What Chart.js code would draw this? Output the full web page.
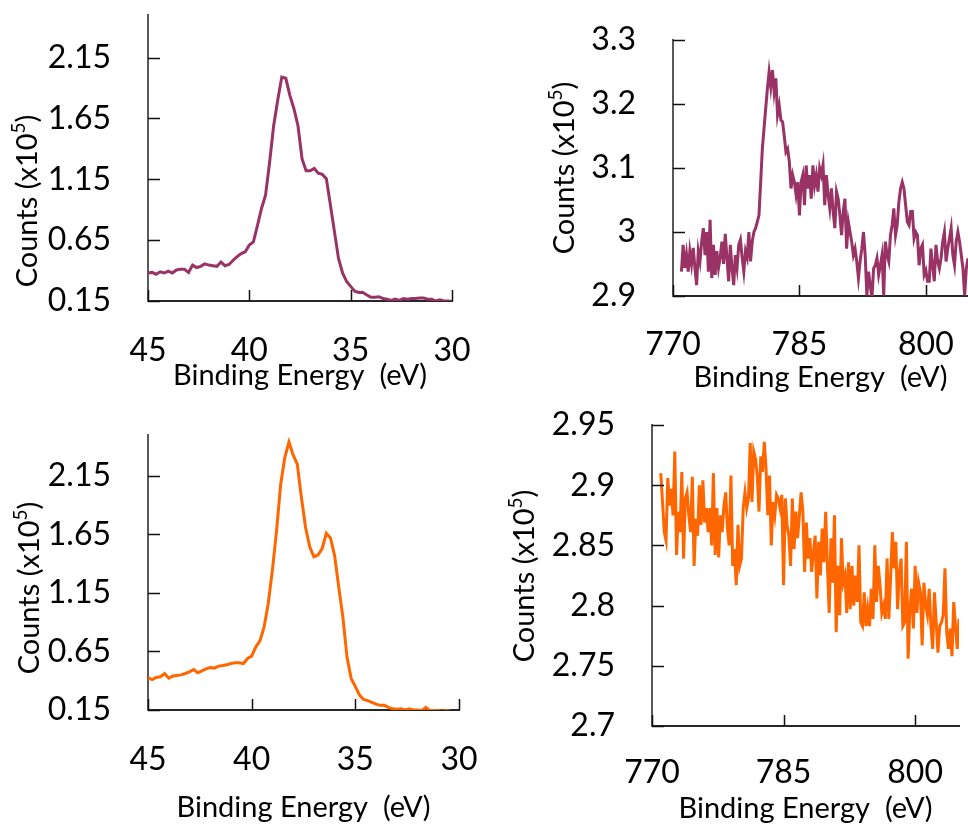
<!DOCTYPE html>
<html>
<head>
<meta charset="utf-8">
<script src="https://cdn.jsdelivr.net/npm/chart.js@4.4.1/dist/chart.umd.min.js"></script>
<style>
  html, body { margin: 0; padding: 0; background: #fff; }
  #page { position: relative; width: 968px; height: 829px; overflow: hidden; }
  canvas { position: absolute; }
</style>
</head>
<body>
<div id="page">
  <canvas id="c1" width="484" height="400" style="left:0;top:0"></canvas>
  <canvas id="c2" width="484" height="400" style="left:484px;top:0"></canvas>
  <canvas id="c3" width="484" height="429" style="left:0;top:400px"></canvas>
  <canvas id="c4" width="484" height="429" style="left:484px;top:400px"></canvas>
</div>
<script>
// binding energies (eV) of the core-level scans
const coreEnergy = [
  45, 44.8, 44.6, 44.4, 44.2, 44, 43.8, 43.6, 43.4, 43.2,
  43, 42.8, 42.6, 42.4, 42.2, 42, 41.8, 41.6, 41.4, 41.2,
  41, 40.8, 40.6, 40.4, 40.2, 40, 39.8, 39.6, 39.4, 39.2,
  39, 38.8, 38.6, 38.4, 38.2, 38, 37.8, 37.6, 37.4, 37.2,
  37, 36.8, 36.6, 36.4, 36.2, 36, 35.8, 35.6, 35.4, 35.2,
  35, 34.8, 34.6, 34.4, 34.2, 34, 33.8, 33.6, 33.4, 33.2,
  33, 32.8, 32.6, 32.4, 32.2, 32, 31.8, 31.6, 31.4, 31.2,
  31, 30.8, 30.6, 30.4, 30.2, 30
];
// counts (x10^5), top-left scan
const coreCountsTop = [
  0.38, 0.385, 0.37, 0.39, 0.38, 0.395, 0.38, 0.405, 0.41, 0.41,
  0.385, 0.445, 0.425, 0.435, 0.455, 0.445, 0.44, 0.435, 0.47, 0.44,
  0.45, 0.485, 0.515, 0.54, 0.555, 0.61, 0.635, 0.77, 0.91, 1.02,
  1.29, 1.59, 1.80, 1.99, 1.98, 1.84, 1.73, 1.59, 1.32, 1.22,
  1.22, 1.24, 1.20, 1.19, 1.155, 0.94, 0.72, 0.50, 0.38, 0.31,
  0.27, 0.23, 0.22, 0.22, 0.20, 0.18, 0.18, 0.185, 0.17, 0.165,
  0.155, 0.165, 0.155, 0.17, 0.165, 0.17, 0.17, 0.175, 0.175, 0.165,
  0.165, 0.15, 0.16, 0.15, 0.15, 0.145
];
// counts (x10^5), bottom-left scan
const coreCountsBottom = [
  0.428, 0.41, 0.428, 0.434, 0.462, 0.422, 0.44, 0.445, 0.45, 0.462,
  0.476, 0.496, 0.468, 0.485, 0.502, 0.513, 0.508, 0.525, 0.53, 0.536,
  0.547, 0.553, 0.553, 0.547, 0.59, 0.61, 0.69, 0.74, 0.86, 1.06,
  1.345, 1.68, 2.08, 2.31, 2.44, 2.33, 2.25, 1.965, 1.71, 1.545,
  1.46, 1.475, 1.53, 1.66, 1.62, 1.47, 1.20, 0.944, 0.60, 0.42,
  0.35, 0.278, 0.24, 0.23, 0.215, 0.20, 0.19, 0.19, 0.173, 0.16,
  0.156, 0.16, 0.15, 0.16, 0.15, 0.15, 0.145, 0.173, 0.145, 0.145,
  0.145, 0.14, 0.145, 0.14, 0.137, 0.135
];

// binding energies (eV) of the 770-805 eV scans
const satEnergy = [
  771, 771.2, 771.4, 771.6, 771.8, 772, 772.2, 772.4, 772.6, 772.8,
  773, 773.2, 773.4, 773.6, 773.8, 774, 774.2, 774.4, 774.6, 774.8,
  775, 775.2, 775.4, 775.6, 775.8, 776, 776.2, 776.4, 776.6, 776.8,
  777, 777.2, 777.4, 777.6, 777.8, 778, 778.2, 778.4, 778.6, 778.8,
  779, 779.2, 779.4, 779.6, 779.8, 780, 780.2, 780.4, 780.6, 780.8,
  781, 781.2, 781.4, 781.6, 781.8, 782, 782.2, 782.4, 782.6, 782.8,
  783, 783.2, 783.4, 783.6, 783.8, 784, 784.2, 784.4, 784.6, 784.8,
  785, 785.2, 785.4, 785.6, 785.8, 786, 786.2, 786.4, 786.6, 786.8,
  787, 787.2, 787.4, 787.6, 787.8, 788, 788.2, 788.4, 788.6, 788.8,
  789, 789.2, 789.4, 789.6, 789.8, 790, 790.2, 790.4, 790.6, 790.8,
  791, 791.2, 791.4, 791.6, 791.8, 792, 792.2, 792.4, 792.6, 792.8,
  793, 793.2, 793.4, 793.6, 793.8, 794, 794.2, 794.4, 794.6, 794.8,
  795, 795.2, 795.4, 795.6, 795.8, 796, 796.2, 796.4, 796.6, 796.8,
  797, 797.2, 797.4, 797.6, 797.8, 798, 798.2, 798.4, 798.6, 798.8,
  799, 799.2, 799.4, 799.6, 799.8, 800, 800.2, 800.4, 800.6, 800.8,
  801, 801.2, 801.4, 801.6, 801.8, 802, 802.2, 802.4, 802.6, 802.8,
  803, 803.2, 803.4, 803.6, 803.8, 804, 804.2, 804.4, 804.6, 804.8,
  805
];
// counts (x10^5), top-right scan
const satCountsTop = [
  2.938, 2.98, 2.944, 2.965, 2.938, 2.97, 2.95, 2.975, 2.944, 2.917,
  2.97, 2.954, 2.985, 3.006, 2.964, 3.0, 2.938, 3.019, 2.928, 2.98,
  2.933, 2.97, 2.944, 2.96, 2.985, 2.95, 2.997, 2.96, 2.923, 2.98,
  2.944, 2.917, 2.964, 2.944, 2.98, 2.988, 2.96, 2.938, 2.97, 2.96,
  3.0, 2.954, 2.985, 3.0, 3.006, 3.016, 3.026, 3.078, 3.13, 3.162,
  3.193, 3.224, 3.25, 3.227, 3.253, 3.219, 3.24, 3.183, 3.198, 3.175,
  3.172, 3.15, 3.125, 3.13, 3.11, 3.068, 3.089, 3.078, 3.058, 3.078,
  3.026, 3.078, 3.089, 3.042, 3.104, 3.068, 3.089, 3.052, 3.104, 3.073,
  3.089, 3.063, 3.10, 3.089, 3.105, 3.042, 3.089, 3.058, 3.037, 3.068,
  3.032, 3.006, 3.063, 3.052, 3.026, 2.995, 3.032, 3.052, 2.974, 3.016,
  3.0, 2.985, 2.964, 2.974, 2.954, 2.928, 2.954, 2.974, 3.0, 2.964,
  2.901, 2.938, 2.917, 2.896, 2.943, 2.948, 2.959, 2.933, 2.948, 2.964,
  2.901, 2.985, 2.964, 2.954, 2.995, 3.011, 3.037, 2.995, 3.011, 3.047,
  3.068, 3.078, 3.068, 3.042, 3.016, 3.011, 3.032, 3.032, 2.99, 3.0,
  2.995, 2.948, 2.974, 2.98, 2.933, 2.94, 2.923, 2.923, 2.974, 2.948,
  2.923, 2.98, 2.954, 2.943, 2.959, 2.985, 3.0, 2.954, 2.974, 2.99,
  3.006, 2.964, 2.948, 2.985, 3.0, 2.985, 2.964, 2.943, 2.901, 2.943,
  2.959
];
// counts (x10^5), bottom-right scan
const satCountsBottom = [
  2.910, 2.886, 2.861, 2.854, 2.906, 2.883, 2.897, 2.875, 2.928, 2.842,
  2.878, 2.861, 2.911, 2.839, 2.889, 2.894, 2.875, 2.861, 2.907, 2.833,
  2.872, 2.858, 2.90, 2.867, 2.904, 2.869, 2.881, 2.861, 2.881, 2.85,
  2.91, 2.842, 2.881, 2.84, 2.875, 2.861, 2.883, 2.894, 2.864, 2.85,
  2.908, 2.833, 2.847, 2.817, 2.867, 2.833, 2.839, 2.881, 2.894, 2.881,
  2.889, 2.935, 2.886, 2.928, 2.922, 2.908, 2.878, 2.924, 2.911, 2.936,
  2.914, 2.875, 2.908, 2.85, 2.886, 2.875, 2.892, 2.889, 2.881, 2.892,
  2.817, 2.889, 2.867, 2.858, 2.833, 2.889, 2.847, 2.878, 2.856, 2.875,
  2.894, 2.878, 2.828, 2.869, 2.839, 2.856, 2.828, 2.844, 2.858, 2.806,
  2.853, 2.825, 2.864, 2.836, 2.878, 2.833, 2.794, 2.856, 2.819, 2.875,
  2.778, 2.833, 2.792, 2.856, 2.819, 2.825, 2.794, 2.836, 2.797, 2.833,
  2.80, 2.825, 2.803, 2.85, 2.786, 2.783, 2.811, 2.783, 2.797, 2.783,
  2.814, 2.789, 2.85, 2.803, 2.833, 2.817, 2.794, 2.80, 2.789, 2.839,
  2.789, 2.822, 2.861, 2.831, 2.853, 2.797, 2.828, 2.839, 2.783, 2.786,
  2.853, 2.756, 2.797, 2.814, 2.781, 2.833, 2.794, 2.819, 2.811, 2.767,
  2.819, 2.80, 2.792, 2.814, 2.783, 2.764, 2.811, 2.786, 2.761, 2.783,
  2.786, 2.792, 2.831, 2.778, 2.764, 2.781, 2.758, 2.803, 2.783, 2.764,
  2.789
];

// tick labels
const coreXTicks = [45, 40, 35, 30];
const coreYTicks = [0.15, 0.65, 1.15, 1.65, 2.15];
const satXTicks = [770, 785, 800];
const satYTicksTop = [2.9, 3, 3.1, 3.2, 3.3];
const satYTicksBottom = [2.7, 2.75, 2.8, 2.85, 2.9, 2.95];

const xTitle = 'Binding Energy  (eV)';
const FONT = 'Lato';
const PURPLE = '#993366';
const ORANGE = '#ff6600';

// short inward tick marks like the original plots
const innerTicks = {
  id: 'innerTicks',
  afterDraw(chart) {
    const { ctx, chartArea: a, scales: { x, y } } = chart;
    ctx.save();
    ctx.strokeStyle = '#111';
    ctx.lineWidth = 1.5;
    ctx.beginPath();
    y.ticks.forEach(t => {
      const py = Math.round(y.getPixelForValue(t.value)) + 0.5;
      ctx.moveTo(a.left, py);
      ctx.lineTo(a.left + 12, py);
    });
    x.ticks.forEach(t => {
      const px = Math.round(x.getPixelForValue(t.value)) + 0.5;
      ctx.moveTo(px, a.bottom);
      ctx.lineTo(px, a.bottom - 11);
    });
    ctx.stroke();
    ctx.restore();
  }
};

// rotated y title with superscript 5
const yTitle = {
  id: 'yTitle',
  afterDraw(chart, args, opts) {
    const ctx = chart.ctx;
    const main = '29px ' + FONT;
    const sup = '19px ' + FONT;
    ctx.save();
    ctx.translate(opts.x, opts.y);
    ctx.rotate(-Math.PI / 2);
    ctx.fillStyle = '#000';
    ctx.textBaseline = 'middle';
    ctx.textAlign = 'left';
    ctx.font = main;
    const w1 = ctx.measureText('Counts (x10').width;
    const w3 = ctx.measureText(')').width;
    ctx.font = sup;
    const w2 = ctx.measureText('5').width;
    const sx = -(w1 + w2 + w3) / 2;
    ctx.font = main;
    ctx.fillText('Counts (x10', sx, 0);
    ctx.font = sup;
    ctx.fillText('5', sx + w1, -9);
    ctx.font = main;
    ctx.fillText(')', sx + w1 + w2, 0);
    ctx.restore();
  }
};

const fmt = v => String(+Number(v).toFixed(2));

function zeroPad(s) {
  s.paddingTop = 0; s.paddingBottom = 0; s.paddingLeft = 0; s.paddingRight = 0;
}

const panels = [
  { id: 'c1', energy: coreEnergy, counts: coreCountsTop, color: PURPLE,
    xMin: 30, xMax: 45, reverse: true, yMin: 0.15, yMax: 2.5,
    xTicks: coreXTicks, yTicks: coreYTicks,
    left: 148, top: 15, right: 452, bottom: 301,
    xPad: 30, titlePad: 8, yt: { x: 28, y: 201 } },
  { id: 'c2', energy: satEnergy, counts: satCountsTop, color: PURPLE,
    xMin: 770, xMax: 805, reverse: false, yMin: 2.9, yMax: 3.3,
    xTicks: satXTicks, yTicks: satYTicksTop,
    left: 189, top: 40, right: 484, bottom: 296,
    xPad: 29, titlePad: 6, yt: { x: 81, y: 168 } },
  { id: 'c3', energy: coreEnergy, counts: coreCountsBottom, color: ORANGE,
    xMin: 30, xMax: 45, reverse: true, yMin: 0.15, yMax: 2.5,
    xTicks: coreXTicks, yTicks: coreYTicks,
    left: 148, top: 35, right: 459, bottom: 310,
    xPad: 30, titlePad: 5, yt: { x: 30, y: 188 } },
  { id: 'c4', energy: satEnergy, counts: satCountsBottom, color: ORANGE,
    xMin: 770, xMax: 805, reverse: false, yMin: 2.7, yMax: 2.95,
    xTicks: satXTicks, yTicks: satYTicksBottom,
    left: 168, top: 25, right: 475, bottom: 326,
    xPad: 27, titlePad: 4, yt: { x: 41, y: 176 } }
];

function makePanel(p) {
  const canvas = document.getElementById(p.id);
  new Chart(canvas, {
    type: 'line',
    data: {
      datasets: [{
        data: p.energy.map((e, i) => ({ x: e, y: p.counts[i] })),
        borderColor: p.color,
        borderWidth: 3,
        pointRadius: 0,
        tension: 0,
        fill: false
      }]
    },
    options: {
      responsive: false,
      animation: false,
      devicePixelRatio: 1,
      layout: { padding: { left: 0, top: p.top, right: canvas.width - p.right, bottom: 0 } },
      plugins: {
        legend: { display: false },
        tooltip: { enabled: false },
        yTitle: p.yt
      },
      scales: {
        x: {
          type: 'linear',
          min: p.xMin,
          max: p.xMax,
          reverse: p.reverse,
          afterBuildTicks: s => { s.ticks = p.xTicks.map(v => ({ value: v })); },
          afterFit: s => { s.height = canvas.height - p.bottom; zeroPad(s); },
          grid: { display: false, drawTicks: false },
          border: { display: true, color: '#262626', width: 2 },
          ticks: { padding: p.xPad, color: '#000', font: { family: FONT, size: 32 },
                   maxRotation: 0, autoSkip: false, callback: fmt },
          title: { display: true, text: xTitle, color: '#000',
                   font: { family: FONT, size: 29 }, padding: { top: 0, bottom: p.titlePad - 1 } }
        },
        y: {
          min: p.yMin,
          max: p.yMax,
          afterBuildTicks: s => { s.ticks = p.yTicks.map(v => ({ value: v })); },
          afterFit: s => { s.width = p.left; zeroPad(s); },
          grid: { display: false, drawTicks: false },
          border: { display: true, color: '#595959', width: 2 },
          ticks: { padding: 37, color: '#000', font: { family: FONT, size: 32 },
                   autoSkip: false, callback: fmt }
        }
      }
    },
    plugins: [innerTicks, yTitle]
  });
}

document.fonts.load('32px ' + FONT).finally(() => panels.forEach(makePanel));
</script>
</body>
</html>
